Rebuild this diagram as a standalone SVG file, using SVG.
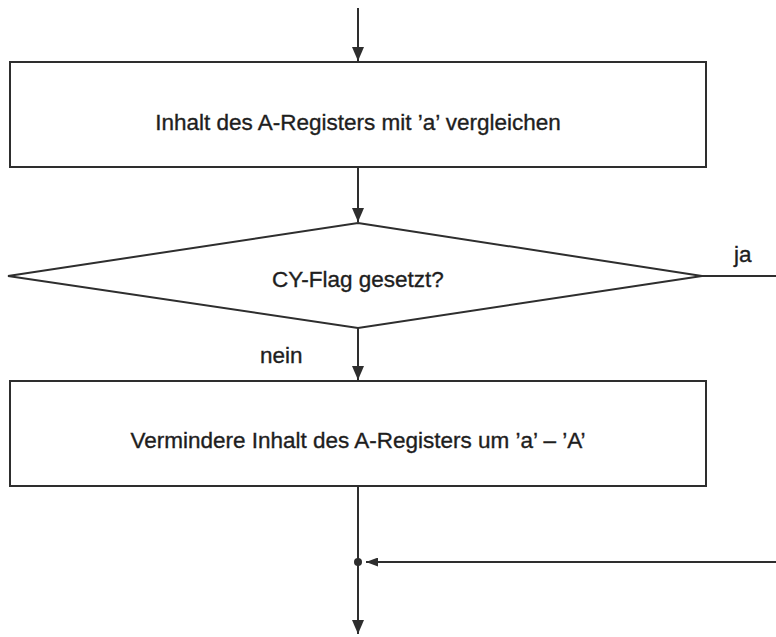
<svg xmlns="http://www.w3.org/2000/svg" width="776" height="637" viewBox="0 0 776 637">
  <style>
    .shape { fill: #fff; stroke: #2e2e2e; stroke-width: 2; }
    .line { fill: none; stroke: #2e2e2e; stroke-width: 2; }
    .label { font-family: "Liberation Sans", Arial, sans-serif; font-size: 22.5px; fill: #1e1e1e; stroke: #1e1e1e; stroke-width: 0.35px; }
    .mid { text-anchor: middle; }
  </style>
  <defs>
    <marker id="arrow" markerUnits="userSpaceOnUse" markerWidth="14" markerHeight="12" refX="14" refY="6" orient="auto">
      <path d="M0,0 L14,6 L0,12 z" fill="#2e2e2e"/>
    </marker>
    <marker id="arrowSmall" markerUnits="userSpaceOnUse" markerWidth="12" markerHeight="9" refX="12" refY="4.5" orient="auto">
      <path d="M0,0 L12,4.5 L0,9 z" fill="#2e2e2e"/>
    </marker>
  </defs>

  <rect width="776" height="637" fill="#fff"/>

  <!-- connectors -->
  <g id="connectors">
    <path class="line" d="M358,8 V61" marker-end="url(#arrow)"/>
    <path class="line" d="M358,167 V222" marker-end="url(#arrow)"/>
    <path class="line" d="M358,328 V380" marker-end="url(#arrow)"/>
    <path class="line" d="M702,276 H776"/>
    <path class="line" d="M358,486 V634" marker-end="url(#arrow)"/>
    <path class="line" d="M776,562 H366" marker-end="url(#arrowSmall)"/>
    <circle cx="358" cy="562" r="4" fill="#2e2e2e"/>
    <text class="label" x="734" y="262">ja</text>
    <text class="label" x="260" y="363">nein</text>
  </g>

  <!-- compare step -->
  <g id="compare">
    <rect class="shape" x="10" y="62" width="696" height="105"/>
    <text class="label mid" x="358" y="130">Inhalt des A-Registers mit ’a’ vergleichen</text>
  </g>

  <!-- carry flag decision -->
  <g id="decision">
    <polygon class="shape" points="358,223 702,276 358,328 8,276"/>
    <text class="label mid" x="358" y="287">CY-Flag gesetzt?</text>
  </g>

  <!-- subtract step -->
  <g id="subtract">
    <rect class="shape" x="10" y="381" width="696" height="105"/>
    <text class="label mid" x="358" y="448">Vermindere Inhalt des A-Registers um ’a’ – ’A’</text>
  </g>
</svg>
